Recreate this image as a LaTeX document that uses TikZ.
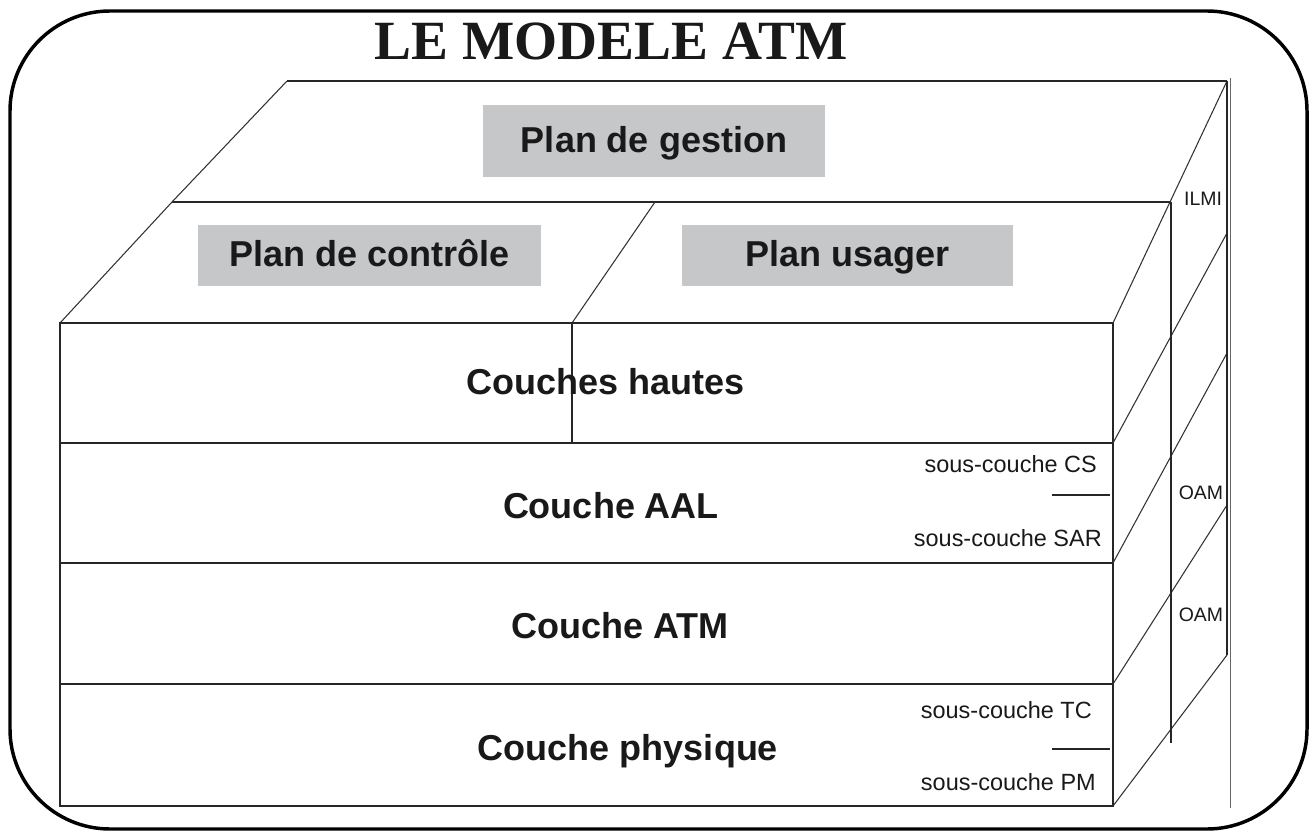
\documentclass[tikz,border=0pt]{standalone}
\usepackage{fontspec}
\setmainfont{Liberation Sans}
\newfontfamily\titlefont{Liberation Serif}
\begin{document}
\begin{tikzpicture}[x=0.75pt,y=-0.75pt,
  edge/.style={draw=black!85,line width=1.1pt},
  thinedge/.style={draw=black!80,line width=0.8pt},
  graybox/.style={fill=boxgray,inner sep=0pt,text height=21pt,text depth=4pt,font=\fontsize{27}{32}\selectfont\bfseries,text=black!90},
  biglabel/.style={inner sep=0pt,font=\fontsize{27}{32}\selectfont\bfseries,text=black!90},
  sublabel/.style={inner sep=0pt,anchor=east,font=\fontsize{17.6}{20}\selectfont,text=black!90},
  sidelabel/.style={inner sep=0pt,font=\fontsize{14.6}{17}\selectfont,text=black!90}]
\definecolor{boxgray}{HTML}{C6C7C9}
\useasboundingbox (0,0) rectangle (1312,834);
% outer rounded frame
\draw[line width=2.6pt,rounded corners=75pt] (10,11) rectangle (1307,829);
% title
\node[inner sep=0pt,font=\titlefont\fontsize{41.5}{46}\selectfont\bfseries,text=black!90] (title) at (611,41) {LE MODELE ATM};
% coordinates of the box
\coordinate (bl) at (287,81);   \coordinate (br) at (1227,81);
\coordinate (ml) at (172,202);  \coordinate (mr) at (1171,202);
\coordinate (fl) at (60,323);   \coordinate (fr) at (1113,323);
\coordinate (dtop) at (655,202); \coordinate (dfront) at (572,323); \coordinate (dbot) at (572,443);
\coordinate (r1) at (1113,443); \coordinate (r2) at (1113,563); \coordinate (r3) at (1113,684); \coordinate (r4) at (1113,806);
\coordinate (l1) at (60,443); \coordinate (l2) at (60,563); \coordinate (l3) at (60,684); \coordinate (l4) at (60,806);
\coordinate (b1) at (1227,233); \coordinate (b2) at (1227,353); \coordinate (b3) at (1227,505); \coordinate (b4) at (1227,655);
\coordinate (m4) at (1171,743);
\coordinate (t1) at (1230,78); \coordinate (t2) at (1230,808);
% top surfaces
\draw[edge] (bl) -- (br);
\draw[edge] (ml) -- (mr);
\draw[thinedge] (fl) -- (ml) -- (bl);
\draw[thinedge] (dfront) -- (dtop);
% front face
\draw[edge] (fl) -- (fr) -- (r4) -- (l4) -- cycle;
\draw[edge] (l1) -- (r1);
\draw[edge] (l2) -- (r2);
\draw[edge] (l3) -- (r3);
\draw[edge] (dfront) -- (dbot);
% right side
\draw[thinedge] (fr) -- (br);
\draw[thinedge] (r1) -- (b1);
\draw[thinedge] (r2) -- (b2);
\draw[thinedge] (r3) -- (b3);
\draw[thinedge] (r4) -- (b4);
\draw[edge] (mr) -- (m4);
\draw[edge] (br) -- (b4);
\draw[draw=black!60,line width=0.5pt] (t1) -- (t2);
% planes
\node[graybox,minimum width=256.5pt,minimum height=54pt] (gestion) at (654,141) {Plan de gestion};
\node[graybox,minimum width=257pt,minimum height=45.75pt] (controle) at (369.5,255.5) {Plan de contrôle};
\node[graybox,minimum width=248pt,minimum height=45.75pt] (usager) at (847.5,255.5) {Plan usager};
% layers
\node[biglabel] (hautes) at (606,382) {Couches hautes};
\node[biglabel] (aal) at (611,506) {Couche AAL};
\node[biglabel] (atm) at (620,626) {Couche ATM};
\node[biglabel,anchor=base] (phys) at (628,760) {Couche physique};
% sublayers
\node[sublabel] (cs) at (1097,464) {sous-couche CS};
\node[sublabel] (sar) at (1102,538) {sous-couche SAR};
\coordinate (s1a) at (1052,495); \coordinate (s1b) at (1110,495);
\draw[edge] (s1a) -- (s1b);
\node[sublabel] (tc) at (1092,710) {sous-couche TC};
\node[sublabel] (pm) at (1096,782) {sous-couche PM};
\coordinate (s2a) at (1052,749); \coordinate (s2b) at (1110,749);
\draw[edge] (s2a) -- (s2b);
% side labels
\node[sidelabel] (ilmi) at (1203,199) {ILMI};
\node[sidelabel] (oam1) at (1201,493) {OAM};
\node[sidelabel] (oam2) at (1201,615) {OAM};
\end{tikzpicture}
\end{document}
